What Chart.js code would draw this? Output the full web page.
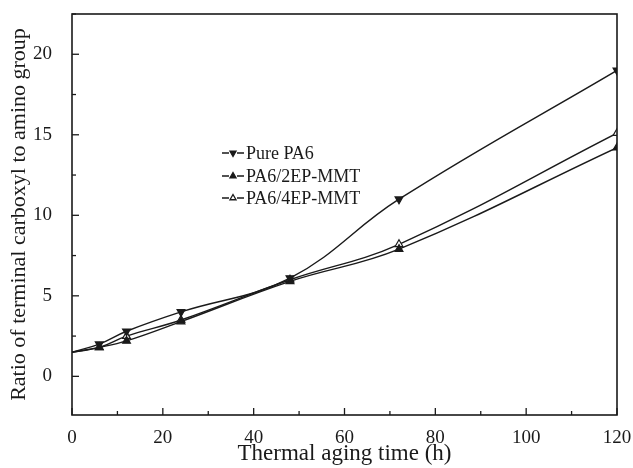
<!DOCTYPE html>
<html>
<head>
<meta charset="utf-8">
<script src="https://cdn.jsdelivr.net/npm/chart.js@4.4.1/dist/chart.umd.min.js"></script>
<style>
  html, body { margin: 0; padding: 0; background: #fff; }
  #wrap { width: 633px; height: 468px; }
</style>
</head>
<body>
<div id="wrap"><canvas id="myChart" width="633" height="468"></canvas></div>
<script>
// aging time (h)
const hours = [0, 6, 12, 24, 48, 72, 120];
const seriesNames = ['Pure PA6', 'PA6/2EP-MMT', 'PA6/4EP-MMT'];
const purePA6 = [1.5, 2.0, 2.8, 4.0, 6.1, 11.0, 19.0];
const pa6_2ep = [1.5, 1.8, 2.2, 3.4, 5.9, 7.9, 14.2];
const pa6_4ep = [1.5, 1.8, 2.5, 3.5, 6.0, 8.2, 15.1];
const yTicks = [0, 5, 10, 15, 20];

const ink = '#1a1a1a';
const serif = '"Liberation Serif", "DejaVu Serif", serif';

const toPts = arr => hours.map((h, i) => ({ x: h, y: arr[i] }));
// no marker on the x=0 start point
const radii = hours.map(h => h === 0 ? 0 : 4.5);

const styles = [
    { pointStyle: 'triangle', rotation: 180, fill: ink },
    { pointStyle: 'triangle', rotation: 0, fill: ink },
    { pointStyle: 'triangle', rotation: 0, fill: '#fff' }
];

const datasets = [purePA6, pa6_2ep, pa6_4ep].map((arr, i) => ({
    label: seriesNames[i],
    data: toPts(arr),
    borderColor: ink,
    borderWidth: 1.4,
    backgroundColor: styles[i].fill,
    pointBackgroundColor: styles[i].fill,
    pointBorderColor: ink,
    pointBorderWidth: 1.2,
    pointStyle: styles[i].pointStyle,
    rotation: styles[i].rotation,
    pointRadius: radii,
    tension: 0.4,
    fill: false
}));

// inward ticks (major + minor), frame and the in-plot legend
const frameAndLegend = {
    id: 'frameAndLegend',
    afterDraw(chart) {
        const ctx = chart.ctx;
        const a = chart.chartArea;
        const xs = chart.scales.x, ys = chart.scales.y;
        ctx.save();
        ctx.strokeStyle = ink;
        ctx.lineWidth = 1.6;
        ctx.strokeRect(a.left, a.top, a.right - a.left, a.bottom - a.top);
        ctx.lineWidth = 1.3;
        for (let v = 0; v <= 120; v += 10) {
            const px = xs.getPixelForValue(v);
            const len = v % 20 === 0 ? 7 : 4;
            ctx.beginPath();
            ctx.moveTo(px, a.bottom);
            ctx.lineTo(px, a.bottom - len);
            ctx.stroke();
        }
        for (let v = -2.5; v <= 22.5; v += 2.5) {
            if (v < ys.min || v > ys.max) continue;
            const py = ys.getPixelForValue(v);
            const len = v % 5 === 0 ? 7 : 4;
            ctx.beginPath();
            ctx.moveTo(a.left, py);
            ctx.lineTo(a.left + len, py);
            ctx.stroke();
        }

        // legend
        const lx = 222, ly = [153, 176, 198];
        ctx.font = '18px ' + serif;
        ctx.textBaseline = 'middle';
        chart.data.datasets.forEach((ds, i) => {
            const y = ly[i];
            ctx.strokeStyle = ink;
            ctx.lineWidth = 1.3;
            ctx.beginPath();
            ctx.moveTo(lx, y); ctx.lineTo(lx + 7, y);
            ctx.moveTo(lx + 15, y); ctx.lineTo(lx + 22, y);
            ctx.stroke();
            ctx.fillStyle = ds.pointBackgroundColor;
            Chart.helpers.drawPoint(ctx, {
                pointStyle: ds.pointStyle,
                rotation: ds.rotation,
                radius: 3.5,
                borderWidth: 1
            }, lx + 11, y);
            ctx.fillStyle = ink;
            ctx.fillText(ds.label, lx + 24, y + 1);
        });
        ctx.restore();
    }
};

new Chart(document.getElementById('myChart').getContext('2d'), {
    type: 'line',
    data: { datasets: datasets },
    options: {
        responsive: false,
        animation: false,
        layout: { padding: { top: 14, right: 16, left: 6, bottom: 0 } },
        plugins: { legend: { display: false }, tooltip: { enabled: false } },
        scales: {
            x: {
                type: 'linear',
                min: 0,
                max: 120,
                grid: { display: false },
                border: { display: false },
                ticks: {
                    stepSize: 20,
                    color: ink,
                    padding: 4,
                    font: { family: serif, size: 19 }
                },
                title: {
                    display: true,
                    text: 'Thermal aging time (h)',
                    color: ink,
                    padding: { top: 0, bottom: 0 },
                    font: { family: serif, size: 23 }
                },
                afterFit: s => { s.height = 53; s.paddingLeft = 0; s.paddingRight = 0; }
            },
            y: {
                min: -2.4,
                max: 22.5,
                grid: { display: false },
                border: { display: false },
                afterBuildTicks: s => { s.ticks = yTicks.map(v => ({ value: v })); },
                ticks: {
                    color: ink,
                    padding: 12,
                    font: { family: serif, size: 19 }
                },
                title: {
                    display: true,
                    text: 'Ratio of terminal carboxyl to amino group',
                    color: ink,
                    padding: { top: 0, bottom: 2 },
                    font: { family: serif, size: 22 }
                },
                afterFit: s => { s.width = 66; s.paddingTop = 0; s.paddingBottom = 0; }
            }
        }
    },
    plugins: [frameAndLegend]
});
</script>
</body>
</html>
